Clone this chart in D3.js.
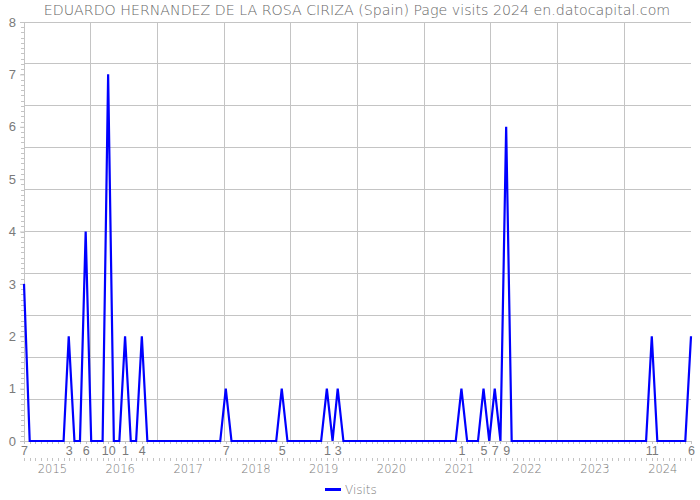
<!DOCTYPE html>
<html>
<head>
<meta charset="utf-8">
<script src="https://cdn.jsdelivr.net/npm/d3@7"></script>
<style>
  html, body { margin: 0; padding: 0; background: #fff; }
  svg { display: block; font-family: "DejaVu Sans", Verdana, sans-serif; font-weight: 200; }
</style>
</head>
<body>
<svg id="chart" width="700" height="500"></svg>
<script>
// ---- data ----
const chartTitle = "EDUARDO HERNANDEZ DE LA ROSA CIRIZA (Spain) Page visits 2024 en.datocapital.com";
const seriesName = "Visits";
const firstMonth = new Date(2014, 6, 1);   // July 2014
const lastMonth = new Date(2024, 5, 1);    // June 2024
// monthly visits, July 2014 .. June 2024 (one row per Jul-Jun year)
const visits = [
  3,0,0,0,0,0,0,0,2,0,0,4,
  0,0,0,7,0,0,2,0,0,2,0,0,
  0,0,0,0,0,0,0,0,0,0,0,0,
  1,0,0,0,0,0,0,0,0,0,1,0,
  0,0,0,0,0,0,1,0,1,0,0,0,
  0,0,0,0,0,0,0,0,0,0,0,0,
  0,0,0,0,0,0,1,0,0,0,1,0,
  1,0,6,0,0,0,0,0,0,0,0,0,
  0,0,0,0,0,0,0,0,0,0,0,0,
  0,0,0,0,2,0,0,0,0,0,0,2
];
const yearLabels = [2015, 2016, 2017, 2018, 2019, 2020, 2021, 2022, 2023, 2024];
const yTicks = [0, 1, 2, 3, 4, 5, 6, 7, 8];

// ---- layout ----
const mLeft = 24, mRight = 691, mTop = 22, mBottom = 441;
const svg = d3.select("#chart");
const months = d3.timeMonth.range(firstMonth, d3.timeMonth.offset(lastMonth, 1));
const data = months.map((d, i) => ({ date: d, value: visits[i] }));

const x = d3.scaleTime().domain([firstMonth, lastMonth]).range([mLeft, mRight]);
const y = d3.scaleLinear().domain([0, 8]).range([mBottom, mTop]);
const yearX = d3.scaleTime().domain([new Date(2014, 7, 1), lastMonth]).range([mLeft, mRight]);

const grid = "#c4c4c4", textCol = "#7a7a7a";

// gridlines (10 equal divisions)
const gx = d3.range(0, 11).map(i => mLeft + (mRight - mLeft) * i / 10);
const gy = d3.range(0, 11).map(i => mBottom - (mBottom - mTop) * i / 10);
svg.append("g").selectAll("line").data(gx.slice(1, 10)).join("line")
  .attr("x1", d => d).attr("x2", d => d).attr("y1", mTop).attr("y2", mBottom)
  .attr("stroke", grid).attr("stroke-width", 1).attr("shape-rendering", "crispEdges");
svg.append("g").selectAll("line").data(gy.slice(1)).join("line")
  .attr("x1", mLeft).attr("x2", mRight).attr("y1", d => d).attr("y2", d => d)
  .attr("stroke", grid).attr("stroke-width", 1).attr("shape-rendering", "crispEdges");

// y axis
const yAxis = svg.append("g").attr("transform", `translate(${mLeft},0)`)
  .call(d3.axisLeft(y).tickValues(yTicks).tickFormat(d3.format("d")).tickSize(4).tickPadding(4));
yAxis.select(".domain").attr("stroke", grid);
yAxis.selectAll(".tick line").attr("stroke", grid);
yAxis.selectAll("text").attr("fill", textCol).style("font-size", "13px").style("font-family", "inherit");
// y minor ticks
svg.append("g").selectAll("line").data(d3.range(0, 81).map(i => i / 10)).join("line")
  .attr("x1", mLeft - 3).attr("x2", mLeft).attr("y1", d => Math.round(y(d)) + 0.5).attr("y2", d => Math.round(y(d)) + 0.5)
  .attr("stroke", grid);

// x axis: month labels for non-zero months
const labelled = data.filter(d => d.value > 0).map(d => d.date);
const xAxis = svg.append("g").attr("transform", `translate(0,${mBottom})`)
  .call(d3.axisBottom(x).tickValues(labelled).tickFormat(d3.timeFormat("%-m")).tickSize(0).tickPadding(5));
xAxis.select(".domain").attr("stroke", grid);
xAxis.selectAll("text").attr("fill", textCol).style("font-size", "12.5px").style("font-family", "inherit");
// month minor ticks
svg.append("g").selectAll("line").data(months).join("line")
  .attr("x1", d => Math.round(x(d)) + 0.5).attr("x2", d => Math.round(x(d)) + 0.5)
  .attr("y1", mBottom).attr("y2", mBottom + 3).attr("stroke", grid);
// year row ticks
svg.append("g").selectAll("line").data(months).join("line")
  .attr("x1", d => Math.round(x(d)) + 0.5).attr("x2", d => Math.round(x(d)) + 0.5)
  .attr("y1", 458).attr("y2", 461).attr("stroke", grid);
// year labels
svg.append("g").selectAll("text").data(yearLabels).join("text")
  .attr("x", d => yearX(new Date(d, 0, 1))).attr("y", 473)
  .attr("text-anchor", "middle").attr("fill", textCol).style("font-size", "11.5px")
  .text(d => d);

// line
svg.append("path").datum(data)
  .attr("fill", "none").attr("stroke", "#0000ff").attr("stroke-width", 2.2)
  .attr("stroke-linejoin", "miter")
  .attr("d", d3.line().x(d => x(d.date)).y(d => y(d.value)));

// title
svg.append("text").attr("x", 357).attr("y", 15).attr("text-anchor", "middle")
  .attr("fill", "#666").style("font-size", "14.2px").text(chartTitle);

// legend
svg.append("line").attr("x1", 325).attr("x2", 341).attr("y1", 489.5).attr("y2", 489.5)
  .attr("stroke", "#0000ff").attr("stroke-width", 3);
svg.append("text").attr("x", 345).attr("y", 494).attr("fill", textCol)
  .style("font-size", "12px").text(seriesName);
</script>
</body>
</html>
